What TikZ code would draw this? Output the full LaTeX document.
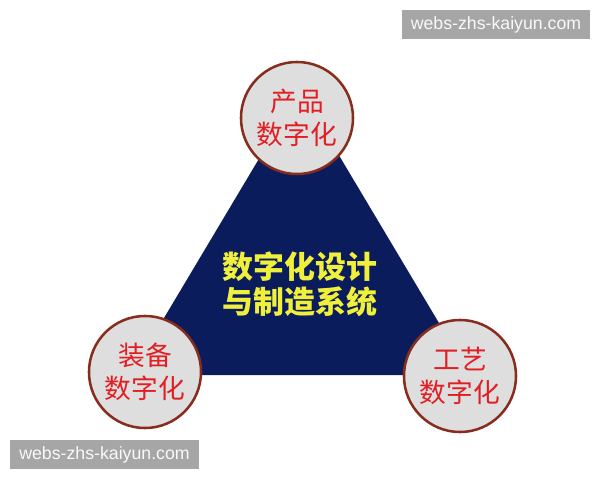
\documentclass[tikz,border=0pt]{standalone}
\usepackage{fontspec}
\setmainfont{Liberation Sans}
\newfontfamily\cjk{Noto Sans CJK SC}
\definecolor{navy}{RGB}{10,28,92}
\definecolor{ringred}{RGB}{135,45,30}
\definecolor{textred}{RGB}{225,30,35}
\definecolor{discgray}{RGB}{222,222,222}
\definecolor{sysyellow}{RGB}{240,240,60}
\definecolor{markgray}{RGB}{166,166,166}
\tikzset{
  disc/.style={circle, draw=ringred, line width=1.8pt, fill=discgray, minimum size=2.8cm, inner sep=0pt,
    align=center, text=textred, font=\cjk\fontsize{19}{23.5}\selectfont},
  watermark/.style={fill=markgray, text=white!95!gray, minimum width=4.7cm, minimum height=0.72cm, inner sep=0pt,
    font=\fontsize{12.6}{14}\selectfont}
}
\begin{document}
\begin{tikzpicture}[x=0.025cm, y=-0.025cm]
  \useasboundingbox (0,0) rectangle (600,480);

  \coordinate (apex) at (300,90);
  \coordinate (left) at (130,375);
  \coordinate (right) at (470,375);
  \fill[navy] (apex) -- (left) -- (right) -- cycle;

  \node[align=center, text=sysyellow, font=\cjk\bfseries\fontsize{22}{25}\selectfont] (sys) at (300,284) {数字化设计\\与制造系统};

  \node[disc] (prod) at (297,118) {产品\\数字化};
  \node[disc] (equip) at (145,372) {装备\\数字化};
  \node[disc] (proc) at (460,376) {工艺\\数字化};

  \node[watermark] (wm1) at (496,24.5) {webs-zhs-kaiyun.com};
  \node[watermark] (wm2) at (104.5,454.5) {webs-zhs-kaiyun.com};
\end{tikzpicture}
\end{document}
